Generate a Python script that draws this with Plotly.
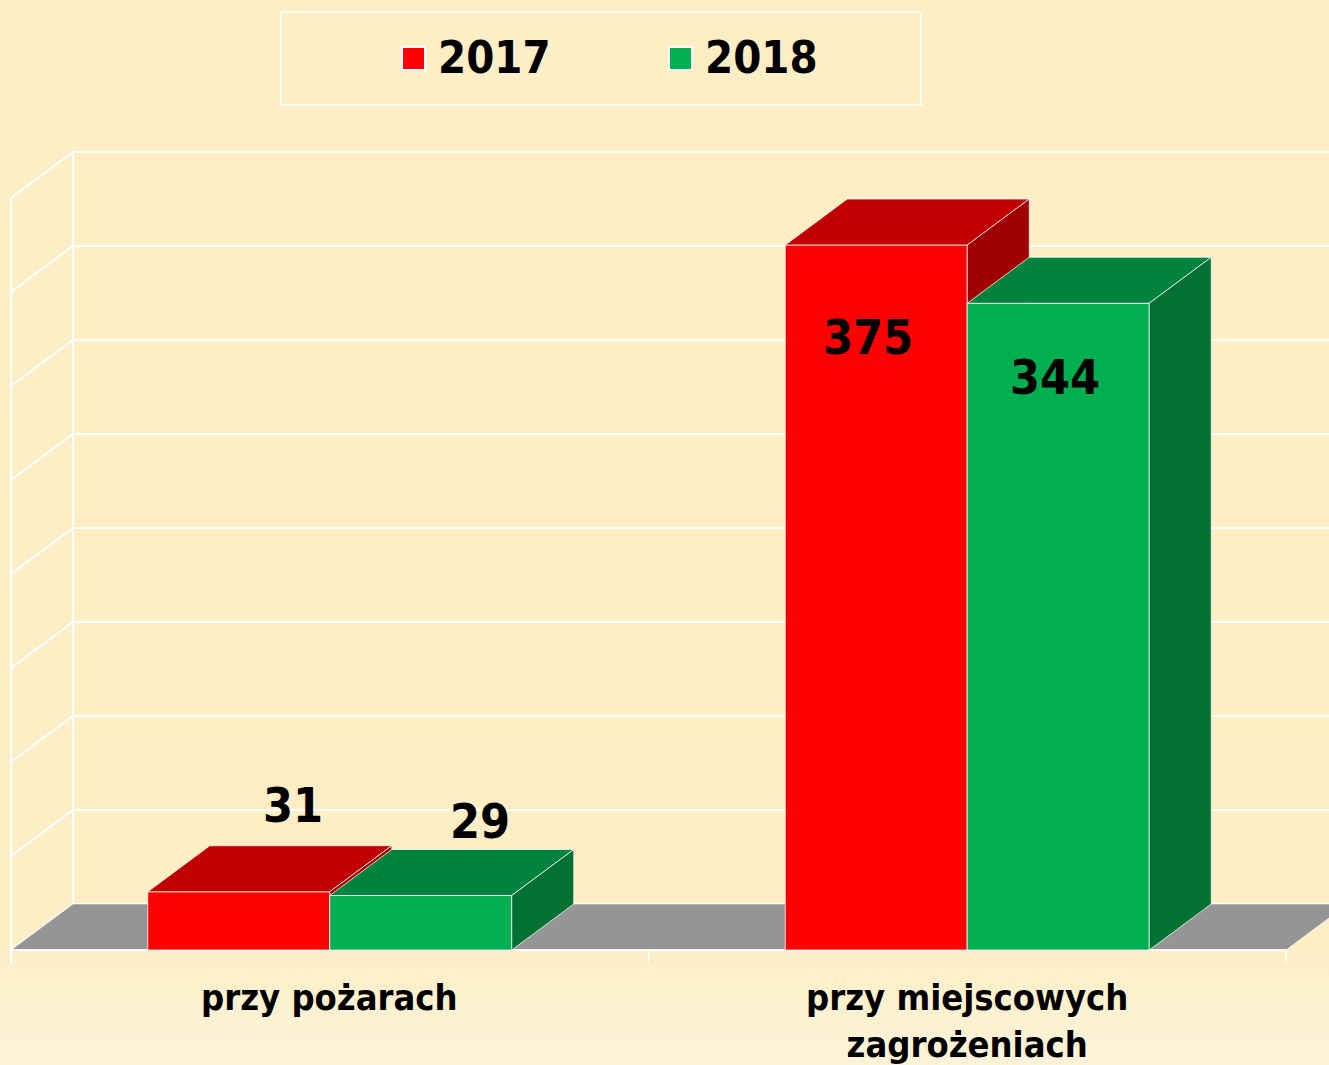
import plotly.graph_objects as go

# ---------------- data ----------------
categories = ["przy pożarach", "przy miejscowych<br>zagrożeniach"]
series_names = ["2017", "2018"]
values_2017 = [31, 375]
values_2018 = [29, 344]
axis_max = 400
grid_step = 50

# ---------------- style ----------------
BG = "#FDEEC5"
BG_LIGHT = "#FCF3D8"
FRONT = ["#FF0000", "#00B050"]
TOP = ["#C00000", "#00843D"]
SIDE = ["#A00000", "#007033"]
FLOOR = "#959595"
EDGE = "rgba(255,255,255,0.75)"
FONT = "'DejaVu Sans Condensed', 'DejaVu Sans', sans-serif"

W, H = 1329, 1065
X_LEFT_PX = 11.0        # pixel of the front-left floor corner
CAT_PX = 637.5          # pixels per category slot
Y0_PX = 950.0           # pixel of the front floor edge
PX_PER_UNIT = 1.88      # pixels per value unit
DEPTH_X_PX = 62.0
DEPTH_Y_PX = 46.0
BAR_W = 182.0 / CAT_PX

# label nudges in pixels (series x category), relative to the bar anchor
LABEL_NUDGE = [[(-8, 41), (-8, -92)],
               [(-3, 28), (-3, -74)]]

x_range = [-0.5 - X_LEFT_PX / CAT_PX, -0.5 + (W - X_LEFT_PX) / CAT_PX]
y_range = [-(H - Y0_PX) / PX_PER_UNIT, Y0_PX / PX_PER_UNIT]
DX = DEPTH_X_PX / CAT_PX
DV = DEPTH_Y_PX / PX_PER_UNIT
TICK = 13.0 / PX_PER_UNIT

fig = go.Figure()


def poly(xs, ys, fill, line=EDGE, lw=1):
    fig.add_trace(go.Scatter(
        x=list(xs) + [xs[0]], y=list(ys) + [ys[0]], mode="lines",
        fill="toself", fillcolor=fill, line=dict(color=line, width=lw),
        hoverinfo="skip", showlegend=False))


def seg(xs, ys, color="white", width=2):
    fig.add_trace(go.Scatter(
        x=xs, y=ys, mode="lines", line=dict(color=color, width=width),
        hoverinfo="skip", showlegend=False))


n = len(categories)
x_lo, x_hi = -0.5, n - 0.5

# subtle lighter gradient at the bottom of the background
g_top = -(940 - Y0_PX) / PX_PER_UNIT
fig.add_trace(go.Scatter(
    x=[x_range[0], x_range[1], x_range[1], x_range[0], x_range[0]],
    y=[y_range[0], y_range[0], g_top, g_top, y_range[0]],
    mode="lines", fill="toself", line=dict(width=0),
    fillgradient=dict(type="vertical", colorscale=[[0, BG_LIGHT], [1, BG]]),
    hoverinfo="skip", showlegend=False))

# walls / gridlines
for v in range(0, axis_max + 1, grid_step):
    seg([x_lo + DX, x_hi + DX], [v + DV, v + DV])
    seg([x_lo, x_lo + DX], [v, v + DV])
seg([x_lo, x_lo], [-TICK, axis_max])
seg([x_lo + DX, x_lo + DX], [DV, axis_max + DV])

# floor
poly([x_lo, x_hi, x_hi + DX, x_lo + DX], [0, 0, DV, DV], FLOOR,
     line="rgba(255,255,255,0.6)", lw=1)

# front axis line and ticks
seg([x_lo, x_hi], [0, 0], color="rgba(255,255,255,0.9)", width=2)
for k in range(n + 1):
    xt = x_lo + k
    seg([xt, xt], [0, -TICK], color="rgba(255,255,255,0.9)", width=1.5)

# bars
all_series = [values_2017, values_2018]
for i in range(n):
    for s, vals in enumerate(all_series):
        v = vals[i]
        l = i - BAR_W + s * BAR_W
        r = l + BAR_W
        poly([l, r, r, l], [0, 0, v, v], FRONT[s])
        poly([l, r, r + DX, l + DX], [v, v, v + DV, v + DV], TOP[s])
        poly([r, r + DX, r + DX, r], [0, DV, v + DV, v], SIDE[s])

# data labels
annotations = []
for i in range(n):
    for s, vals in enumerate(all_series):
        v = vals[i]
        c = i - BAR_W / 2 + s * BAR_W
        if v > axis_max / 2:
            ax, ay = c, v
        else:
            ax, ay = c + DX, v + DV
        xs, ys = LABEL_NUDGE[s][i]
        annotations.append(dict(
            x=ax, y=ay, xref="x", yref="y", xshift=xs, yshift=ys,
            text="<b>%d</b>" % v, showarrow=False,
            xanchor="center", yanchor="middle",
            font=dict(family=FONT, size=48, color="black")))

# category labels
for i, cat in enumerate(categories):
    annotations.append(dict(
        x=i, y=0, xref="x", yref="y", yshift=-25,
        text="<b>%s</b>" % cat, showarrow=False,
        xanchor="center", yanchor="top",
        font=dict(family=FONT, size=36, color="black")))

# legend (drawn manually)
shapes = [dict(type="rect", xref="paper", yref="paper",
               x0=281 / W, x1=921 / W, y0=1 - 105 / H, y1=1 - 12 / H,
               line=dict(color="white", width=1.5), fillcolor="rgba(0,0,0,0)")]
leg_x = [402, 669]
for s, name in enumerate(series_names):
    x0 = leg_x[s]
    shapes.append(dict(type="rect", xref="paper", yref="paper",
                       x0=x0 / W, x1=(x0 + 23) / W,
                       y0=1 - 70 / H, y1=1 - 47 / H,
                       line=dict(color="white", width=2), fillcolor=FRONT[s]))
    annotations.append(dict(
        x=(x0 + 34) / W, y=1 - 58 / H, xref="paper", yref="paper",
        text="<b>%s</b>" % name, showarrow=False, xanchor="left", yanchor="middle",
        font=dict(family=FONT, size=45, color="black")))

fig.update_layout(
    width=W, height=H, margin=dict(l=0, r=0, t=0, b=0),
    paper_bgcolor=BG, plot_bgcolor=BG,
    xaxis=dict(range=x_range, visible=False, fixedrange=True),
    yaxis=dict(range=y_range, visible=False, fixedrange=True),
    shapes=shapes, annotations=annotations, showlegend=False,
)

fig.write_html("out.html", config={"displayModeBar": False},
               post_script="document.body.style.margin='0';")
